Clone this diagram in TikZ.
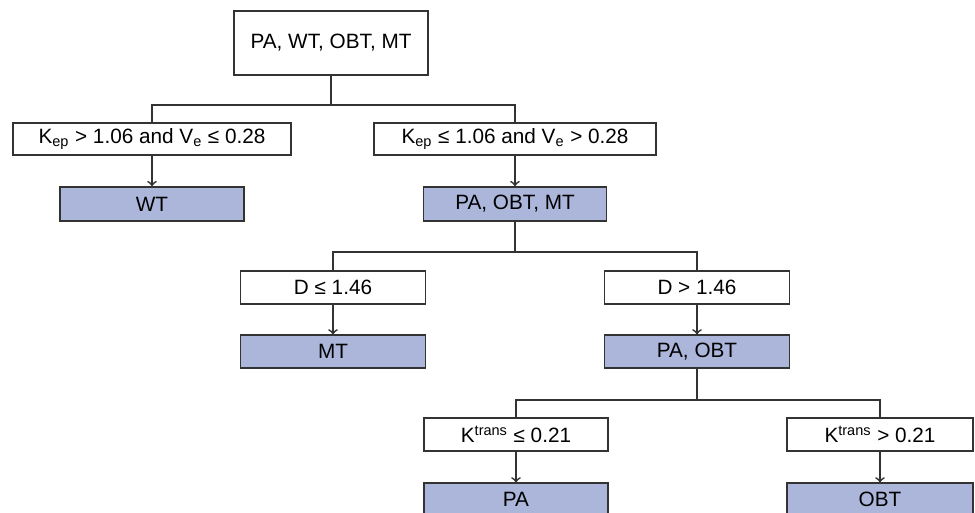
\documentclass[tikz,border=0pt]{standalone}
\usepackage{fontspec}
\setmainfont{Liberation Sans}
\definecolor{leafblue}{RGB}{172,182,218}
\begin{document}
\begin{tikzpicture}[x=0.02cm,y=-0.02cm,line width=1pt,
		cond/.style={draw=black!80,fill=white,inner sep=0pt,minimum height=0.65cm,font=\fontsize{11.8}{14}\selectfont},
		leaf/.style={cond,fill=leafblue},
		arr/.style={draw=black!80,->}]
		\useasboundingbox (0,0) rectangle (975,512);
		\node[cond,minimum width=3.88cm,minimum height=1.28cm] (root) at (331,43) {PA, WT, OBT, MT};
		\node[cond,minimum width=5.56cm,minimum height=0.64cm] (kepA) at (152,139) {K\textsubscript{ep} > 1.06 and V\textsubscript{e} ≤ 0.28};
		\node[cond,minimum width=5.64cm,minimum height=0.64cm] (kepB) at (515,139) {K\textsubscript{ep} ≤ 1.06 and V\textsubscript{e} > 0.28};
		\node[leaf,minimum width=3.68cm,minimum height=0.68cm] (wt) at (152,204) {WT};
		\node[leaf,minimum width=3.66cm,minimum height=0.68cm] (pobm) at (515,204) {PA, OBT, MT};
		\node[cond,minimum width=3.7cm] (dA) at (333,287.5) {D ≤ 1.46};
		\node[cond,minimum width=3.7cm] (dB) at (697,287.5) {D > 1.46};
		\node[leaf,minimum width=3.7cm] (mt) at (333,351.5) {MT};
		\node[leaf,minimum width=3.7cm] (pob) at (697,351.5) {PA, OBT};
		\node[cond,minimum width=3.68cm] (ktA) at (516,434.5) {K\textsuperscript{trans} ≤ 0.21};
		\node[cond,minimum width=3.72cm] (ktB) at (880,434.5) {K\textsuperscript{trans} > 0.21};
		\node[leaf,minimum width=3.68cm] (pa) at (516,499.5) {PA};
		\node[leaf,minimum width=3.72cm] (obt) at (880,499.5) {OBT};
		% splits
		\coordinate (j1) at (331,105);
		\coordinate (j2) at (515,252);
		\coordinate (j3) at (697,400);
		\draw[black!80] (root.south) -- (j1);
		\draw[black!80] (kepA.north) |- (j1) -| (kepB.north);
		\draw[black!80] (pobm.south) -- (j2);
		\draw[black!80] (dA.north) |- (j2) -| (dB.north);
		\draw[black!80] (pob.south) -- (j3);
		\draw[black!80] (ktA.north) |- (j3) -| (ktB.north);
		% arrows
		\draw[arr] (kepA) -- (wt);
		\draw[arr] (kepB) -- (pobm);
		\draw[arr] (dA) -- (mt);
		\draw[arr] (dB) -- (pob);
		\draw[arr] (ktA) -- (pa);
		\draw[arr] (ktB) -- (obt);
	\end{tikzpicture}
\end{document}
